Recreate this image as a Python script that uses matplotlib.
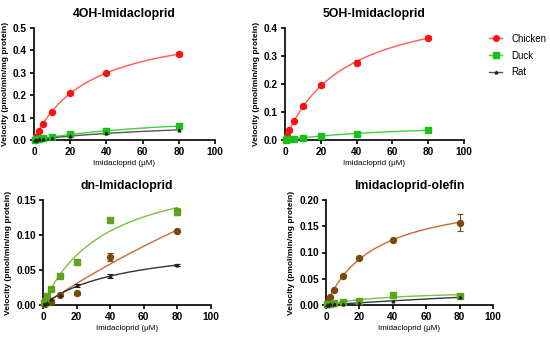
import numpy as np
import matplotlib.pyplot as plt

plt.rcParams['font.family'] = ['Liberation Sans', 'DejaVu Sans']

# substrate concentrations (uM)
conc = [0.5, 1, 2.5, 5, 10, 20, 40, 80]

# 4OH-Imidacloprid
oh4_chicken = [0.005, 0.015, 0.040, 0.073, 0.125, 0.211, 0.301, 0.382]
oh4_chicken_err = [0.002, 0.002, 0.003, 0.004, 0.004, 0.004, 0.004, 0.009]
oh4_duck = [0.002, 0.003, 0.005, 0.008, 0.013, 0.025, 0.040, 0.063]
oh4_rat = [0.001, 0.002, 0.003, 0.005, 0.009, 0.017, 0.030, 0.045]

# 5OH-Imidacloprid
oh5_chicken = [0.005, 0.015, 0.035, 0.068, 0.120, 0.195, 0.276, 0.366]
oh5_chicken_err = [0.002, 0.002, 0.003, 0.005, 0.004, 0.004, 0.008, 0.004]
oh5_duck = [0.001, 0.002, 0.003, 0.005, 0.008, 0.014, 0.023, 0.035]

# dn-Imidacloprid
dn_chicken = [0.001, 0.002, 0.004, 0.005, 0.014, 0.017, 0.069, 0.106]
dn_chicken_err = [0.001, 0.001, 0.001, 0.001, 0.001, 0.002, 0.006, 0.001]
dn_duck = [0.003, 0.006, 0.013, 0.023, 0.041, 0.062, 0.121, 0.133]
dn_duck_err = [0.001, 0.001, 0.001, 0.001, 0.002, 0.003, 0.001, 0.005]
dn_rat = [0.001, 0.002, 0.003, 0.008, 0.015, 0.028, 0.041, 0.057]
dn_rat_err = [0.0, 0.0, 0.0, 0.001, 0.001, 0.002, 0.003, 0.001]

# Imidacloprid-olefin
ol_chicken = [0.002, 0.006, 0.016, 0.028, 0.055, 0.090, 0.124, 0.157]
ol_chicken_err = [0.001, 0.001, 0.001, 0.002, 0.002, 0.002, 0.002, 0.016]
ol_duck = [0.001, 0.001, 0.002, 0.003, 0.005, 0.008, 0.019, 0.018]
ol_rat = [0.0, 0.0, 0.001, 0.001, 0.002, 0.003, 0.008, 0.015]


def mm_fit(x, y):
    # Michaelis-Menten least squares: grid over Km, Vmax solved directly
    x = np.asarray(x, float)
    y = np.asarray(y, float)
    best = None
    for km in np.linspace(1, 400, 4000):
        f = x / (km + x)
        vmax = np.dot(f, y) / np.dot(f, f)
        r = np.sum((y - vmax * f) ** 2)
        if best is None or r < best[0]:
            best = (r, vmax, km)
    return best[1], best[2]


def draw(ax, x, y, err, mcol, lcol, marker, ms):
    vmax, km = mm_fit(x, y)
    xs = np.linspace(0, max(x), 200)
    ax.plot(xs, vmax * xs / (km + xs), color=lcol, lw=1.0, zorder=2, clip_on=False)
    ax.errorbar(x, y, yerr=err, fmt=marker, color=mcol, ms=ms, elinewidth=0.8,
                capsize=2, capthick=0.8, zorder=3, clip_on=False)


def style(ax, title, ymax, yticks, fmt):
    ax.set_xlim(0, 100)
    ax.set_ylim(0, ymax)
    ax.set_xticks([0, 20, 40, 60, 80, 100])
    ax.set_yticks(yticks)
    ax.set_yticklabels([fmt % t for t in yticks])
    for s in ['top', 'right']:
        ax.spines[s].set_visible(False)
    for s in ['left', 'bottom']:
        ax.spines[s].set_linewidth(1.2)
    ax.tick_params(width=1.2, length=3, labelsize=7.3, pad=2)
    for lab in ax.get_xticklabels() + ax.get_yticklabels():
        lab.set_fontweight('bold')
    ax.set_title(title, fontsize=8.8, fontweight='bold', pad=8)
    ax.set_xlabel('Imidacloprid (\u03bcM)', fontsize=5.8, labelpad=2)
    ax.set_ylabel('Velocity (pmol/min/mg protein)', fontsize=6, fontweight='bold', labelpad=3)


red_m, red_l = '#ff1010', '#ff5a5a'
grn_m, grn_l = '#18c018', '#40d040'
blk = '#222222'
brn_m, brn_l = '#7a4a0c', '#c86a3a'
olv_m, olv_l = '#5fa31a', '#7cc040'

fig = plt.figure(figsize=(5.5, 3.37), dpi=100)
ax1 = fig.add_axes([34 / 550, 1 - 140 / 337, 181 / 550, 112 / 337])
ax2 = fig.add_axes([285 / 550, 1 - 140 / 337, 179 / 550, 112 / 337])
ax3 = fig.add_axes([43 / 550, 1 - 305 / 337, 168 / 550, 105 / 337])
ax4 = fig.add_axes([326 / 550, 1 - 305 / 337, 167 / 550, 105 / 337])

draw(ax1, conc, oh4_chicken, oh4_chicken_err, red_m, red_l, 'o', 4.3)
draw(ax1, conc, oh4_duck, None, grn_m, grn_l, 's', 4.3)
draw(ax1, conc, oh4_rat, None, blk, '#555555', '^', 2)
style(ax1, '4OH-Imidacloprid', 0.5, [0.0, 0.1, 0.2, 0.3, 0.4, 0.5], '%.1f')

draw(ax2, conc, oh5_chicken, oh5_chicken_err, red_m, red_l, 'o', 4.3)
draw(ax2, conc, oh5_duck, None, grn_m, grn_l, 's', 4.3)
style(ax2, '5OH-Imidacloprid', 0.4, [0.0, 0.1, 0.2, 0.3, 0.4], '%.1f')

draw(ax3, conc, dn_chicken, dn_chicken_err, brn_m, brn_l, 'o', 4.3)
draw(ax3, conc, dn_duck, dn_duck_err, olv_m, olv_l, 's', 4.3)
draw(ax3, conc, dn_rat, dn_rat_err, blk, '#333333', '^', 2)
style(ax3, 'dn-Imidacloprid', 0.15, [0.0, 0.05, 0.10, 0.15], '%.2f')

draw(ax4, conc, ol_chicken, ol_chicken_err, brn_m, brn_l, 'o', 4.3)
draw(ax4, conc, ol_duck, None, olv_m, olv_l, 's', 4.3)
draw(ax4, conc, ol_rat, None, blk, '#2a3a4a', '^', 2)
style(ax4, 'Imidacloprid-olefin', 0.20, [0.0, 0.05, 0.10, 0.15, 0.20], '%.2f')

# legend
handles = [
    plt.Line2D([], [], color=red_l, marker='o', mfc=red_m, mec=red_m, ms=4, lw=1),
    plt.Line2D([], [], color=grn_l, marker='s', mfc=grn_m, mec=grn_m, ms=4, lw=1),
    plt.Line2D([], [], color='#555555', marker='^', mfc=blk, mec=blk, ms=2, lw=1),
]
fig.legend(handles, ['Chicken', 'Duck', 'Rat'], loc='upper left',
           bbox_to_anchor=(484 / 550, 1 - 29 / 337), frameon=False, fontsize=7,
           handlelength=1.4, handletextpad=0.9, labelspacing=0.7, borderpad=0)

fig.savefig('out.png', dpi=100, facecolor='white')
